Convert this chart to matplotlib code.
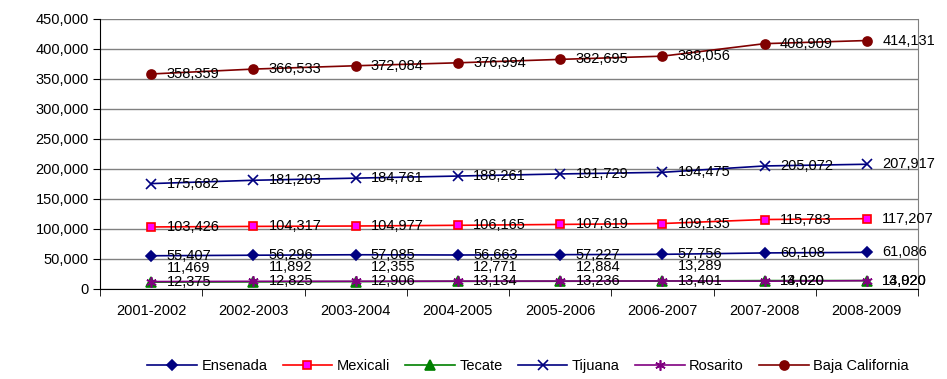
import numpy as np
import matplotlib
matplotlib.use('Agg')
import matplotlib.pyplot as plt
from matplotlib.ticker import FuncFormatter

plt.rcParams['font.family'] = ['Liberation Sans', 'DejaVu Sans']

years = ['2001-2002', '2002-2003', '2003-2004', '2004-2005',
         '2005-2006', '2006-2007', '2007-2008', '2008-2009']

ensenada = [55407, 56296, 57085, 56663, 57227, 57756, 60108, 61086]
mexicali = [103426, 104317, 104977, 106165, 107619, 109135, 115783, 117207]
tecate = [11469, 11892, 12355, 12771, 12884, 13289, 14020, 14020]
tijuana = [175682, 181203, 184761, 188261, 191729, 194475, 205072, 207917]
rosarito = [12375, 12825, 12906, 13134, 13236, 13401, 13020, 13920]
baja = [358359, 366533, 372084, 376994, 382695, 388056, 408909, 414131]

series = [
    ('Ensenada', ensenada, '#000080', 'D', '#000080', 5.5),
    ('Mexicali', mexicali, '#FF0000', 's', '#FF00FF', 6),
    ('Tecate', tecate, '#008000', '^', '#008000', 6.5),
    ('Tijuana', tijuana, '#000080', 'x', '#000080', 6.5),
    ('Rosarito', rosarito, '#800080', '*', '#800080', 7.5),
    ('Baja California', baja, '#800000', 'o', '#800000', 6.5),
]

fig = plt.figure(figsize=(9.47, 3.79), dpi=100)
ax = fig.add_axes([100 / 947, 1 - 289 / 379, 818 / 947, 270 / 379])

x = np.arange(len(years))
for name, vals, col, mk, face, ms in series:
    if mk == '*':
        ax.plot(x, vals, color=col, lw=1.2, marker=(6, 2, 0), ms=ms,
                mec=col, mew=1.2, label=name)
    else:
        ax.plot(x, vals, color=col, lw=1.2, marker=mk, ms=ms,
                mfc=face, mec=col, mew=1.2, label=name)

# data labels
for name, vals, col, mk, face, ms in series:
    for i, v in enumerate(vals):
        dy = 0
        if name == 'Tecate' and i < 6:
            dy = 10.5
        ax.annotate(f'{v:,}', (x[i], v), xytext=(11, dy), textcoords='offset points',
                    ha='left', va='center', fontsize=10.5, color='black')

ax.set_xlim(-0.5, len(years) - 0.5)
ax.set_ylim(0, 450000)
ax.set_yticks(np.arange(0, 450001, 50000))
ax.yaxis.set_major_formatter(FuncFormatter(lambda v, p: f'{int(v):,}'))
ax.set_xticks(x)
ax.set_xticklabels(years)
ax.set_xticks(np.arange(-0.5, len(years), 1), minor=True)
ax.tick_params(axis='x', which='major', length=0, pad=11, labelsize=10.5)
ax.tick_params(axis='x', which='minor', length=5, color='black')
ax.tick_params(axis='y', length=5, labelsize=10.5, pad=3, color='black')
ax.grid(True, axis='y', color='#808080', lw=1)
ax.set_axisbelow(True)
ax.spines['top'].set_visible(False)
ax.spines['right'].set_color('#808080')
ax.spines['left'].set_color('black')
ax.spines['bottom'].set_color('black')

ax.legend(loc='center', bbox_to_anchor=(428 / 818, -0.285), ncol=6, frameon=False,
          fontsize=10.5, handlelength=3.4, columnspacing=1.05, handletextpad=0.3,
          borderaxespad=0)

plt.savefig('out.png', dpi=100)
